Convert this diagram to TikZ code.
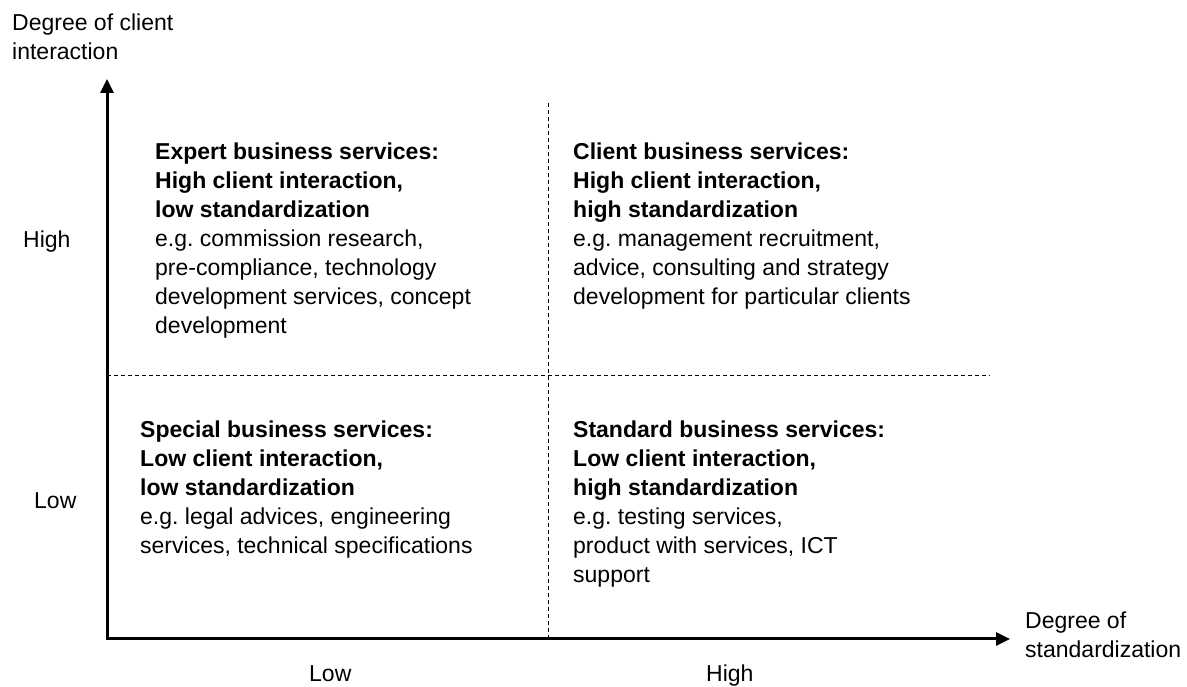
\documentclass[tikz,border=0pt]{standalone}
\usepackage{fontspec}
\setmainfont{Liberation Sans}
\usetikzlibrary{arrows.meta}
\frenchspacing
\tikzset{
  axis/.style={line width=3pt, line join=miter, {Triangle[length=14pt,width=13pt]}-{Triangle[length=14pt,width=13pt]}},
  divider/.style={line width=1pt, dash pattern=on 4pt off 3pt},
  txt/.style={anchor=base west, inner sep=0pt, align=left, font=\fontsize{23}{29}\selectfont},
}
\begin{document}
\begin{tikzpicture}[x=1pt,y=1pt]
\useasboundingbox (0,0) rectangle (1187,686);
\coordinate (O) at (107,47);
\coordinate (ytip) at (107,607);
\coordinate (xtip) at (1010,47);
\coordinate (vtop) at (548,583);
\coordinate (vbot) at (548,47);
\coordinate (hl) at (107,310);
\coordinate (hr) at (990,310);
\draw[divider] (vtop) -- (vbot);
\draw[divider] (hl) -- (hr);
\draw[axis] (ytip) -- (O) -- (xtip);
% anchors are at the baseline of the last line
\node[txt] (ylab) at (12,626) {Degree of client\\interaction};
\node[txt] (xlab) at (1025,28) {Degree of\\standardization};
\node[txt] (yhigh) at (23,438) {High};
\node[txt] (ylow) at (34,177) {Low};
\node[txt] (xlow) at (309,5) {Low};
\node[txt] (xhigh) at (706,5) {High};
\node[txt] (expert) at (155,352) {\textbf{Expert business services:}\\\textbf{High client interaction,}\\\textbf{low standardization}\\e.g. commission research,\\pre-compliance, technology\\development services, concept\\development};
\node[txt] (client) at (573,381) {\textbf{Client business services:}\\\textbf{High client interaction,}\\\textbf{high standardization}\\e.g. management recruitment,\\advice, consulting and strategy\\development for particular clients};
\node[txt] (special) at (140,132) {\textbf{Special business services:}\\\textbf{Low client interaction,}\\\textbf{low standardization}\\e.g. legal advices, engineering\\services, technical specifications};
\node[txt] (standard) at (573,103) {\textbf{Standard business services:}\\\textbf{Low client interaction,}\\\textbf{high standardization}\\e.g. testing services,\\product with services, ICT\\support};
\end{tikzpicture}
\end{document}
